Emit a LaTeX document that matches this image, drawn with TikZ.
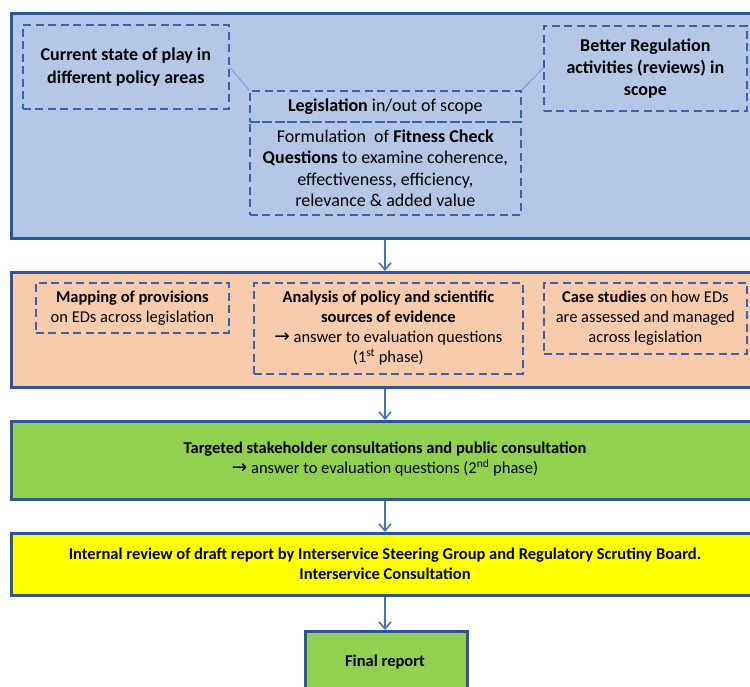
\documentclass[tikz,border=0pt]{standalone}
\usepackage{fontspec}
\setmainfont{Carlito}
\newfontfamily\arrowfont{DejaVu Sans}
\usetikzlibrary{arrows.meta}
\definecolor{bordblue}{HTML}{2F5597}
\definecolor{dashblue}{HTML}{3B62AA}
\definecolor{arrblue}{HTML}{4472C4}
\definecolor{topfill}{HTML}{B4C7E7}
\definecolor{orgfill}{HTML}{F8CBAD}
\definecolor{grnfill}{HTML}{92D050}
\definecolor{ylwfill}{HTML}{FFFF00}
\newcommand{\ra}{{\arrowfont\fontsize{18.5}{18}\selectfont →}}
\tikzset{
  bigbox/.style={draw=bordblue, line width=2.8pt, anchor=north west, inner sep=0pt},
  dbox/.style={draw=dashblue, line width=1.7pt, dash pattern=on 8pt off 4.5pt, anchor=north west,
     inner sep=0pt, align=center, font=\fontsize{18}{22}\selectfont},
  obox/.style={dbox, font=\fontsize{16.5}{20}\selectfont},
  txt/.style={inner sep=0pt, align=center, font=\fontsize{16.5}{20}\selectfont},
  arr/.style={draw=arrblue, line width=1.8pt, -{Straight Barb[length=7pt,width=12pt,line width=1.6pt]}},
  thin/.style={draw=arrblue!80, line width=0.6pt}
}
\begin{document}
\begin{tikzpicture}[x=1pt,y=-1pt]
\useasboundingbox (0,0) rectangle (750,686);
\clip (0,0) rectangle (750,686);
% big boxes
\node[bigbox, fill=topfill, minimum width=770pt, minimum height=225pt] (top) at (10,12) {};
\node[bigbox, fill=orgfill, minimum width=770pt, minimum height=115pt] (org) at (10,271) {};
\node[bigbox, fill=grnfill, minimum width=770pt, minimum height=78pt] (grn) at (10,420) {};
\node[bigbox, fill=ylwfill, minimum width=770pt, minimum height=62pt] (ylw) at (10,532) {};
\node[bigbox, fill=grnfill, minimum width=162pt, minimum height=80pt] (fin) at (304,630) {};
% top inner boxes
\node[dbox, minimum width=206pt, minimum height=84pt, font=\fontsize{18}{23}\selectfont] (cur) at (22,24)
  {\textbf{Current state of play in}\\\textbf{different policy areas}};
\node[dbox, minimum width=203pt, minimum height=85pt] (bet) at (543,25)
  {\textbf{Better Regulation}\\\textbf{activities (reviews) in}\\\textbf{scope}};
\node[dbox, minimum width=271pt, minimum height=31pt] (legA) at (249,90)
  {\textbf{Legislation} in/out of scope};
\node[dbox, minimum width=271pt, minimum height=93pt, font=\fontsize{18}{21.5}\selectfont] (legB) at (249,121)
  {\rule{0pt}{10pt}Formulation\ \ of \textbf{Fitness Check}\\\textbf{Questions} to examine coherence,\\effectiveness, efficiency,\\relevance \& added value};
\draw[thin] (cur.east) -- (legA.north west);
\draw[thin] (bet.west) -- (legA.north east);
% orange inner boxes
\node[obox, minimum width=193pt, minimum height=50pt] (map) at (35,282)
  {\textbf{Mapping of provisions}\\on EDs across legislation};
\node[obox, minimum width=269pt, minimum height=91pt] (ana) at (253,282)
  {\textbf{Analysis of policy and scientific}\\\textbf{sources of evidence}\\\ra\ answer to evaluation questions\\(1\textsuperscript{st} phase)};
\node[obox, minimum width=203pt, minimum height=71pt] (cas) at (543,282)
  {\textbf{Case studies} on how EDs\\are assessed and managed\\across legislation};
% texts in the lower boxes
\node[txt] (gt) at (385,459) {\textbf{Targeted stakeholder consultations and public consultation}\\\ra\ answer to evaluation questions (2\textsuperscript{nd} phase)};
\node[txt] (yt) at (385,564) {\textbf{Internal review of draft report by Interservice Steering Group and Regulatory Scrutiny Board.}\\\textbf{Interservice Consultation}};
\node[txt] (ft) at (385,662) {\textbf{Final report}};
% arrows
\coordinate (ax) at (385,0);
\draw[arr] (top.south -| ax) -- (org.north -| ax);
\draw[arr] (org.south -| ax) -- (grn.north -| ax);
\draw[arr] (grn.south -| ax) -- (ylw.north -| ax);
\draw[arr] (ylw.south -| ax) -- (fin.north -| ax);
\end{tikzpicture}
\end{document}
